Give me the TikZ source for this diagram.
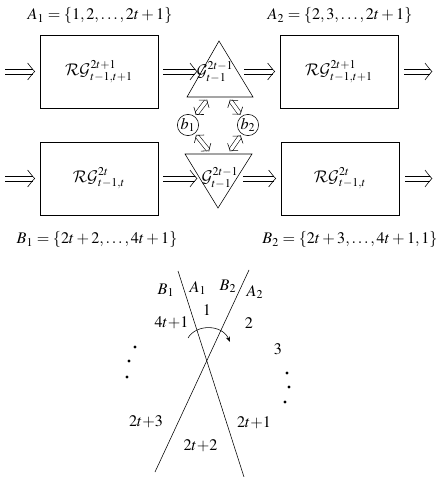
\documentclass[tikz,border=0pt]{standalone}
\usepackage{mathptmx}
\DeclareMathAlphabet{\mathcal}{OMS}{cmsy}{m}{n}
\usetikzlibrary{arrows.meta, calc, decorations.markings}

\begin{document}
\begin{tikzpicture}[x=0.025cm, y=-0.025cm,
  every node/.style={font=\fontsize{11.5}{13}\selectfont},
  rgbox/.style={draw, minimum width=2.95cm, minimum height=1.825cm},
  thinshaft/.style={double, double distance=2.4pt, shorten <=2.5pt, shorten >=1pt},
  tipat/.style={decorate, decoration={markings, mark=at position #1 with
    {\draw (-5pt,6pt) .. controls (-1.5pt,1.5pt) .. (0,0) .. controls (-1.5pt,-1.5pt) .. (-5pt,-6pt);}}},
  twotips/.style={decorate, decoration={markings,
    mark=at position 1.5pt with
    {\draw (3.5pt,4.5pt) .. controls (1pt,1pt) .. (0,0) .. controls (1pt,-1pt) .. (3.5pt,-4.5pt);},
    mark=at position 1 with
    {\draw (-3.5pt,4.5pt) .. controls (-1pt,1pt) .. (0,0) .. controls (-1pt,-1pt) .. (-3.5pt,-4.5pt);}}},
  bnode/.style={draw, circle, inner sep=0.3pt}]

\useasboundingbox (0,0) rectangle (437,477);

% --- top row ---
\node (labA1) at (100,16) {$A_1=\{1,2,\ldots,2t+1\}$};
\node (labA2) at (340,16) {$A_2=\{2,3,\ldots,2t+1\}$};
\node[rgbox] (rgA1) at (99,71.5) {$\mathcal{RG}^{2t+1}_{t-1,t+1}$};
\node[rgbox] (rgA2) at (339,71.5) {$\mathcal{RG}^{2t+1}_{t-1,t+1}$};
% triangle pointing up
\draw (219,41) -- (187,97) -- (253,97) -- cycle;
\node (gA) at (215,72) {$\mathcal{G}^{2t-1}_{t-1}$};
\coordinate (inA) at (5,71.5);
\coordinate (gAin) at (197,71.5);
\coordinate (gAout) at (244,71.5);
\coordinate (outA) at (432,71.5);

% --- bottom row ---
\node[rgbox] (rgB1) at (99,178.5) {$\mathcal{RG}^{2t}_{t-1,t}$};
\node[rgbox] (rgB2) at (340,178.5) {$\mathcal{RG}^{2t}_{t-1,t}$};
% triangle pointing down
\draw (185,154) -- (252,154) -- (218,208) -- cycle;
\node (gB) at (220,178) {$\mathcal{G}^{2t-1}_{t-1}$};
\coordinate (inB) at (5,178.5);
\coordinate (gBin) at (197,178.5);
\coordinate (gBout) at (243,178.5);
\coordinate (outB) at (432,178.5);
\node (labB1) at (97,240) {$B_1=\{2t+2,\ldots,4t+1\}$};
\node (labB2) at (350,240) {$B_2=\{2t+3,\ldots,4t+1,1\}$};

% double arrows of both rows (two strokes each, then the heads)
\foreach \s in {1.9pt,-1.9pt} {
  \begin{scope}[transform canvas={yshift=\s}]
    \draw[shorten >=0.125cm+1.5pt] (inA) -- (rgA1);
    \draw[shorten <=0.125cm, shorten >=1.5pt] (rgA1) -- (gAin);
    \draw[shorten >=0.125cm+1.5pt] (gAout) -- (rgA2);
    \draw[shorten <=0.15cm, shorten >=1.5pt] (rgA2) -- (outA);
    \draw[shorten >=0.125cm+1.5pt] (inB) -- (rgB1);
    \draw[shorten <=0.125cm, shorten >=1.5pt] (rgB1) -- (gBin);
    \draw[shorten >=0.125cm+1.5pt] (gBout) -- (rgB2);
    \draw[shorten <=0.15cm, shorten >=1.5pt] (rgB2) -- (outB);
  \end{scope}
}
\path[tipat=-0.125cm] (inA) -- (rgA1);
\path[tipat=1] (rgA1) -- (gAin);
\path[tipat=-0.125cm] (gAout) -- (rgA2);
\path[tipat=1] (rgA2) -- (outA);
\path[tipat=-0.125cm] (inB) -- (rgB1);
\path[tipat=1] (rgB1) -- (gBin);
\path[tipat=-0.125cm] (gBout) -- (rgB2);
\path[tipat=1] (rgB2) -- (outB);

% --- b1, b2 ---
\node[bnode] (b1) at (188,125) {$b_1$};
\node[bnode] (b2) at (248,125) {$b_2$};
\coordinate (tA1) at (207,100);
\coordinate (tA2) at (230,100);
\coordinate (tB1) at (209,151);
\coordinate (tB2) at (230,151);
\draw[thinshaft] (b1) -- (tA1);
\draw[thinshaft] (b2) -- (tA2);
\draw[thinshaft] (b1) -- (tB1);
\draw[thinshaft] (b2) -- (tB2);
\path[twotips] (b1) -- (tA1);
\path[twotips] (b2) -- (tA2);
\path[twotips] (b1) -- (tB1);
\path[twotips] (b2) -- (tB2);

% --- crossing lines ---
\draw (178,271) -- (244,477);
\draw (249,270) -- (155,472);
\node (lB1) at (166,290) {$B_1$};
\node (lA1) at (198,288) {$A_1$};
\node (lB2) at (228,286) {$B_2$};
\node (lA2) at (255,292) {$A_2$};
\node (n1) at (207,310) {$1$};
\node (n4t1) at (171.5,323) {$4t{+}1$};
\node (n2) at (249,323) {$2$};
\node (n3) at (278,349) {$3$};
\node (n2t3) at (146,422) {$2t{+}3$};
\node (n2t1) at (254,423) {$2t{+}1$};
\node (n2t2) at (200.5,446) {$2t{+}2$};
\draw[-{Stealth[length=4pt]}] (188,338) .. controls (196,324) and (222,324) .. (230,342);
% dots
\foreach \p in {(135,347),(129,361),(127,377),(287,373),(289,387),(285,402)}
  \fill \p circle (1.1pt);

\end{tikzpicture}
\end{document}
